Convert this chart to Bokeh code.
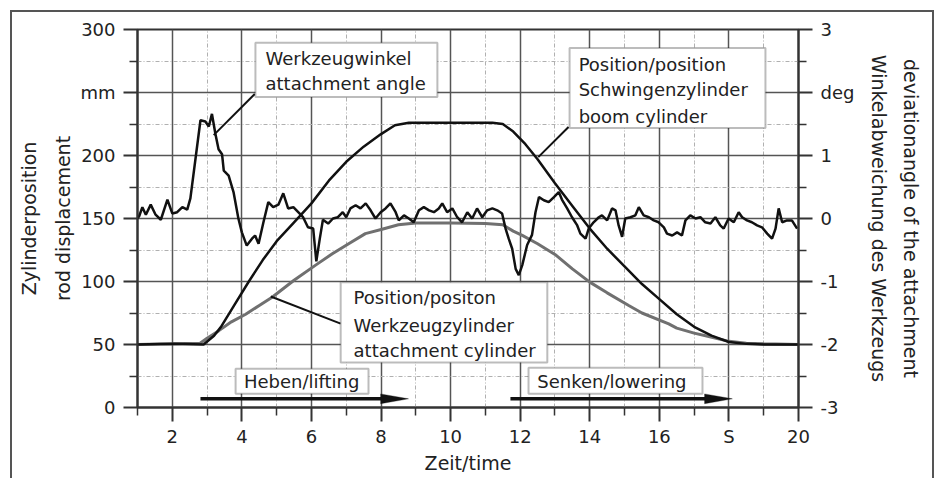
from bokeh.plotting import figure
from bokeh.models import (Range1d, LinearAxis, FixedTicker, BoxAnnotation, Label,
                          Arrow, PolyAnnotation)
from bokeh.embed import file_html
from bokeh.resources import INLINE

# ---------------- data ----------------
time_boom = [1.0, 2.0, 2.9, 3.2, 3.4, 3.8, 4.2, 4.6, 5.0, 5.5, 6.0, 6.5, 7.0, 7.5, 8.0,
             8.4, 8.8, 9.5, 10.5, 11.2, 11.5, 11.8, 12.15, 12.5, 13.0, 13.5, 14.0, 14.5,
             15.0, 15.5, 16.0, 16.5, 17.0, 17.5, 18.0, 18.5, 19.0, 20.0]
boom_mm = [50, 50.5, 50, 57, 64, 82, 100, 117, 132, 147, 162, 180, 195, 207, 217,
           224, 226, 226, 226, 226, 225, 219, 209, 197, 178, 160, 142, 126,
           112, 98, 86, 74, 64, 57, 52, 50.5, 50, 50]

time_att = [1.0, 2.0, 2.8, 3.0, 3.34, 3.7, 4.11, 4.5, 4.87, 5.5, 6.12, 6.6, 7.07, 7.55,
            8.03, 8.5, 9.0, 10.0, 11.0, 11.5, 11.8, 12.06, 12.5, 13.0, 13.5, 14.0, 14.5,
            15.12, 15.5, 16.27, 16.5, 17.0, 17.42, 18.0, 18.5, 19.0, 20.0]
att_mm = [50, 50.5, 51, 55, 61, 68, 74, 81, 87.5, 101, 113, 122, 130, 138,
          141.5, 145, 146.5, 146.5, 146, 145, 140, 136.6, 130, 121.5, 110, 99.5, 91,
          81, 75, 66.4, 63, 59, 56.3, 52.5, 51, 50.5, 50]

time_angle = [1.0, 1.05, 1.14, 1.24, 1.38, 1.52, 1.67, 1.86, 2.0, 2.14, 2.29, 2.43, 2.52,
              2.67, 2.81, 2.95, 3.05, 3.14, 3.24, 3.33, 3.43, 3.48, 3.62, 3.76, 3.9, 4.0,
              4.14, 4.29, 4.38, 4.48, 4.62, 4.76, 4.9, 5.05, 5.19, 5.33, 5.48, 5.62, 5.76,
              5.9, 6.05, 6.14, 6.24, 6.33, 6.48, 6.62, 6.76, 6.9, 7.0, 7.12, 7.27, 7.41,
              7.56, 7.7, 7.84, 7.99, 8.13, 8.27, 8.42, 8.51, 8.66, 8.8, 8.94, 9.09, 9.23,
              9.38, 9.52, 9.66, 9.76, 9.9, 10.05, 10.19, 10.33, 10.48, 10.62, 10.76, 10.91,
              11.05, 11.2, 11.34, 11.48, 11.58, 11.67, 11.77, 11.87, 11.96, 12.06, 12.2,
              12.34, 12.44, 12.54, 12.68, 12.82, 12.97, 13.11, 13.2, 13.35, 13.49, 13.64,
              13.73, 13.88, 13.97, 14.11, 14.26, 14.35, 14.5, 14.64, 14.74, 14.83, 14.93,
              15.02, 15.17, 15.31, 15.41, 15.55, 15.7, 15.84, 15.98, 16.13, 16.22, 16.37,
              16.51, 16.65, 16.75, 16.89, 17.04, 17.18, 17.32, 17.47, 17.61, 17.75, 17.85,
              17.99, 18.14, 18.28, 18.38, 18.52, 18.66, 18.81, 18.95, 19.1, 19.24, 19.34,
              19.43, 19.53, 19.67, 19.81, 19.96]
angle_deg = [0.0, 0.04, 0.18, 0.06, 0.22, 0.06, -0.02, 0.30, 0.08, 0.10, 0.18, 0.14, 0.32,
             0.96, 1.56, 1.54, 1.46, 1.66, 1.34, 1.10, 1.02, 0.76, 0.68, 0.42, 0.0, -0.22,
             -0.43, -0.32, -0.27, -0.40, -0.06, 0.26, 0.18, 0.22, 0.40, 0.16, 0.18, 0.10, 0.02,
             -0.14, -0.16, -0.68, -0.32, -0.02, -0.08, 0.0, 0.02, 0.10, 0.02, 0.16, 0.21, 0.16,
             0.24, 0.13, 0.0, 0.10, 0.16, 0.24, 0.10, -0.03, 0.05, 0.0, -0.06, 0.13, 0.18,
             0.13, 0.10, 0.16, 0.24, 0.10, 0.16, 0.02, -0.06, 0.10, 0.0, 0.16, 0.02,
             0.13, 0.16, 0.13, 0.08, -0.16, -0.32, -0.48, -0.80, -0.90, -0.74, -0.42,
             -0.26, 0.10, 0.34, 0.29, 0.26, 0.34, 0.42, 0.30, 0.16, 0.02, -0.11,
             -0.24, -0.32, -0.16, -0.06, 0.02, 0.05, -0.03, 0.16, 0.13, -0.11, -0.29,
             0.0, 0.02, 0.05, 0.18, 0.05, 0.02, -0.03, -0.06, -0.14, -0.24, -0.27,
             -0.22, -0.27, -0.03, 0.05, 0.0, 0.02, -0.06, -0.08, 0.02, -0.11, -0.16,
             0.0, -0.06, 0.10, 0.02, -0.03, -0.06, -0.11, -0.14, -0.24, -0.32, -0.16,
             0.16, -0.06, -0.03, -0.03, -0.16]

x_ticks = [2, 4, 6, 8, 10, 12, 14, 16, 18, 20]
x_minor = [1, 3, 5, 7, 9, 11, 13, 15, 17, 19]
x_label_override = {18: "S"}
mm_ticks = [0, 50, 100, 150, 200, 250, 300]
mm_minor = [25, 75, 125, 175, 225, 275]
mm_label_override = {250: "mm"}
deg_ticks = [-3, -2, -1, 0, 1, 2, 3]
deg_minor = [-2.5, -1.5, -0.5, 0.5, 1.5, 2.5]
deg_label_override = {-3: "-3", -2: "-2", -1: "-1", 2: "deg"}

FONT = "DejaVu Sans"
TXT = "#222222"

p = figure(width=938, height=478, x_range=Range1d(1, 20), y_range=Range1d(0, 300),
           output_backend="svg", toolbar_location=None,
           min_border_left=137, min_border_right=140, min_border_top=29,
           min_border_bottom=71, background_fill_color="white",
           border_fill_color=None)
# outer frame of the whole figure (three visible sides) drawn as CSS background lines
p.styles = {
    "background-color": "white",
    "background-image": "linear-gradient(#555,#555), linear-gradient(#555,#555), "
                        "linear-gradient(#555,#555)",
    "background-size": "2px 480px, 924px 2px, 2px 480px",
    "background-position": "10px 10px, 10px 10px, 932px 10px",
    "background-repeat": "no-repeat",
}
p.extra_y_ranges = {"deg": Range1d(-3, 3)}
p.outline_line_color = "#333333"
p.outline_line_width = 2

xt = FixedTicker(ticks=x_ticks, minor_ticks=x_minor)
yt = FixedTicker(ticks=mm_ticks, minor_ticks=mm_minor)
dt = FixedTicker(ticks=deg_ticks, minor_ticks=deg_minor)

right_axis = LinearAxis(y_range_name="deg")
p.add_layout(right_axis, "right")


def style_axis(ax, ticker, overrides, label):
    ax.ticker = ticker
    ax.major_label_overrides = overrides
    ax.axis_label = label
    ax.axis_line_color = "#333333"
    ax.axis_line_width = 2
    ax.major_tick_line_color = "#333333"
    ax.major_tick_line_width = 2
    ax.major_tick_out = 14
    ax.major_tick_in = 0
    ax.minor_tick_line_color = "#333333"
    ax.minor_tick_line_width = 1.5
    ax.minor_tick_out = 8
    ax.minor_tick_in = 0
    ax.major_label_text_font = FONT
    ax.major_label_text_font_size = "18px"
    ax.major_label_text_color = TXT
    ax.major_label_standoff = 8
    ax.axis_label_text_font = FONT
    ax.axis_label_text_font_size = "19px"
    ax.axis_label_text_font_style = "normal"
    ax.axis_label_text_color = TXT
    ax.axis_label_standoff = 3
    ax.axis_label_text_line_height = 1.55


style_axis(p.xaxis[0], xt, x_label_override, "Zeit/time")
p.xaxis[0].axis_label_text_line_height = 1.0
p.xaxis[0].major_label_standoff = 4
p.xaxis[0].axis_label_standoff = 2
style_axis(p.yaxis[0], yt, mm_label_override, "Zylinderposition\nrod displacement")
# the right title keeps its lines where the reference has them (German line nearer the axis)
style_axis(right_axis, dt, deg_label_override,
           "deviationangle of the attachment\nWinkelabweichung des Werkzeugs")
right_axis.axis_label_standoff = 11
right_axis.axis_label_text_line_height = 1.45

for g, t in ((p.xgrid[0], xt), (p.ygrid[0], yt)):
    g.ticker = t
    g.grid_line_color = "#555555"
    g.grid_line_width = 1.5
    g.minor_grid_line_color = "#b0b0b0"
    g.minor_grid_line_width = 1
    g.minor_grid_line_dash = "4 2 1 2"

# curves
p.line(time_att, att_mm, line_color="#707070", line_width=3)
p.line(time_boom, boom_mm, line_color="#111111", line_width=2.5)
p.line(time_angle, angle_deg, y_range_name="deg", line_color="#111111", line_width=2.5)

# pointer lines
for (x0, y0, x1, y1) in [(4.37, 248.8, 3.19, 216.2),
                         (13.39, 222.6, 12.52, 198.7),
                         (6.84, 66.6, 4.83, 88.1)]:
    p.add_layout(Arrow(end=None, x_start=x0, y_start=y0, x_end=x1, y_end=y1,
                       line_color="#111111", line_width=2))

# boxes with text
boxes = [
    (4.39, 9.62, 289.4, 246.4, 4.68, ["Werkzeugwinkel", "attachment angle"], [276.7, 256.8]),
    (13.42, 19.05, 285.4, 221.8, 13.68,
     ["Position/position", "Schwingenzylinder", "boom cylinder"], [272.3, 252.0, 231.3]),
    (6.84, 12.78, 99.5, 35.8, 7.21,
     ["Position/positon", "Werkzeugzylinder", "attachment cylinder"], [87.3, 65.4, 45.5]),
    (3.82, 7.64, 30.8, 10.9, 4.06, ["Heben/lifting"], [20.5]),
    (12.24, 17.24, 31.6, 10.9, 12.49, ["Senken/lowering"], [20.5]),
]
for (l, r, t, b, tx, lines, ys) in boxes:
    p.add_layout(BoxAnnotation(left=l, right=r, top=t, bottom=b, fill_color="white",
                               fill_alpha=1, line_color="#222222", line_width=2))
    for txt, ty in zip(lines, ys):
        p.add_layout(Label(x=tx, y=ty, text=txt, text_font=FONT, text_font_size="18px",
                           text_color=TXT, text_baseline="middle", text_align="left"))

# phase arrows
for (x0, x1) in [(2.81, 8.79), (11.72, 18.1)]:
    p.add_layout(Arrow(end=None, x_start=x0, y_start=6.9, x_end=x1 - 0.5, y_end=6.9,
                       line_color="#111111", line_width=3.5))
    p.add_layout(PolyAnnotation(xs=[x1 - 0.8, x1, x1 - 0.8], ys=[10.8, 6.9, 3.0],
                                fill_color="#111111", fill_alpha=1,
                                line_color="#111111", line_width=1))

open("out.html", "w").write(file_html(p, INLINE))
